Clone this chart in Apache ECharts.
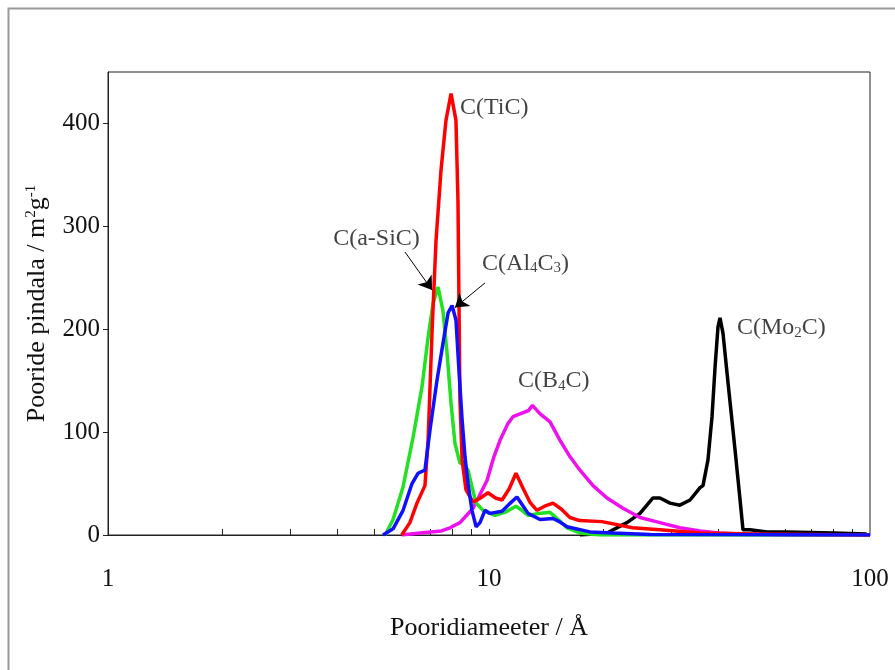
<!DOCTYPE html>
<html>
<head>
<meta charset="utf-8">
<script src="https://cdn.jsdelivr.net/npm/echarts@6/dist/echarts.min.js"></script>
<style>
  html, body { margin: 0; padding: 0; background: #fff; }
  #chart { width: 895px; height: 670px; }
</style>
</head>
<body>
<div id="chart"></div>
<script>
// pore diameter (Å) vs pore area (m2/g)
var tic = [[5.9,0],[6.2,12],[6.47,31],[6.79,48],[6.92,92],[7.09,199],[7.26,286],[7.48,354],[7.71,403],[7.95,429],
  [8.19,403],[8.29,325],[8.34,228],[8.39,131],[8.5,73],[8.7,44],[9.08,32],[9.5,36],[9.94,41],[10.4,36],[10.82,34],
  [11.3,45],[11.77,60],[12.3,45],[12.8,32],[13.36,24],[14.0,28],[14.72,31],[15.5,25],[16.3,17],[17.3,14],[19.8,13],
  [23.8,7],[28.1,5],[35.8,2],[50,1],[100,0]];
var sic = [[5.34,0],[5.6,15],[5.95,47],[6.32,95],[6.67,144],[6.92,192],[7.13,225],[7.35,241],[7.57,218],[7.76,177],
  [7.95,128],[8.14,89],[8.39,70],[8.6,68],[8.81,63],[9.02,47],[9.25,31],[9.64,24],[10.37,19],[11.0,22],[11.77,28],
  [12.2,24],[12.66,19],[13.5,21],[14.46,22],[15.2,15],[16.02,7],[17.33,2],[19.56,0],[100,0]];
var al4c3 = [[5.27,0],[5.6,6],[5.95,24],[6.28,50],[6.51,60],[6.79,63],[7.0,102],[7.3,150],[7.57,186],[7.81,216],
  [8.0,223],[8.19,209],[8.34,160],[8.5,112],[8.65,76],[8.81,50],[9.02,24],[9.25,8],[9.47,12],[9.76,24],[10.06,21],
  [10.82,23],[11.3,30],[11.84,37],[12.3,28],[12.66,21],[13.61,15],[14.72,16],[15.3,13],[16.02,8],[18.41,3],
  [21.16,2],[26.5,0.5],[100,0]];
var b4c = [[5.9,0],[6.59,2],[7.5,4],[7.9,7],[8.39,12],[9.08,26],[9.88,53],[10.3,76],[10.69,92],[11.2,108],[11.56,115],
  [12.3,119],[12.7,121],[13.0,126],[13.6,118],[14.46,110],[15.36,92],[16.32,76],[17.33,63],[18.75,48],[20.4,36],
  [22.47,26],[24.91,17],[28.1,12],[31.7,7],[35.8,4],[40,2],[45.6,1],[60,0],[100,0]];
var mo2c = [[17.33,0],[20.4,2],[23.02,12],[24.91,21],[26.94,36],[28.1,36],[29.87,31],[31.7,29],[33.71,34],[35.8,46],
  [36.45,48],[37.56,73],[38.49,115],[39.2,163],[39.9,202],[40.39,211],[41.13,196],[42.4,148],[44.23,83],[45.6,34],
  [46.42,5],[48.4,5],[53.67,3],[60.56,3],[80,2],[98,1]];

var yTicks = [0, 100, 200, 300, 400];
var xLabels = [1, 10, 100];
var xTicks = [2,3,4,5,6,7,8,9,10,20,30,40,50,60,70,80,90];

var labels = [
  {name: 'C(TiC)', value: [8.39, 415]},
  {name: 'C(a-SiC)', value: [3.9, 288]},
  {name: 'C(Al{sub|4}C{sub|3})', value: [9.59, 264]},
  {name: 'C(B{sub|4}C)', value: [11.91, 150]},
  {name: 'C(Mo{sub|2}C)', value: [44.77, 201]}
];
var arrows = [
  [[6.02, 275], [7.09, 238]],
  [[9.76, 245], [8.14, 221]]
];

var font = '"Liberation Serif", "Times New Roman", serif';
var ink = '#111';
var chart = echarts.init(document.getElementById('chart'));

function line(name, data, color) {
  return {
    name: name, type: 'line', data: data, showSymbol: false, symbol: 'none',
    lineStyle: {color: color, width: 3.5}, itemStyle: {color: color}, z: 3
  };
}

var option = {
  animation: false,
  backgroundColor: '#fff',
  graphic: [{
    type: 'rect', left: 6, top: 6, silent: true,
    shape: {width: 1000, height: 1000},
    style: {fill: 'none', stroke: '#9a9a9a', lineWidth: 2}
  }],
  grid: {left: 108, top: 72, right: 25, bottom: 135, show: true, borderColor: '#222', borderWidth: 1},
  xAxis: {
    type: 'log', logBase: 10, min: 1, max: 100,
    name: 'Pooridiameeter / Å', nameLocation: 'middle', nameGap: 80,
    nameTextStyle: {fontFamily: font, fontSize: 26, color: ink},
    axisLine: {lineStyle: {color: '#222', width: 1}},
    axisTick: {inside: true, length: 6, customValues: xTicks, lineStyle: {color: '#222'}},
    minorTick: {show: false},
    axisLabel: {customValues: xLabels, margin: 32, fontFamily: font, fontSize: 25, color: ink},
    splitLine: {show: false}
  },
  yAxis: {
    type: 'value', min: 0, max: 450, interval: 100,
    name: 'Pooride pindala / m{sup|2}g{sup|-1}', nameLocation: 'middle', nameGap: 58, nameRotate: 90,
    nameTextStyle: {
      fontFamily: font, fontSize: 26, color: ink,
      rich: {sup: {fontFamily: font, fontSize: 15, verticalAlign: 'top', color: ink}}
    },
    axisLine: {lineStyle: {color: '#222', width: 1}},
    axisTick: {inside: false, length: 5, customValues: yTicks, lineStyle: {color: '#222'}},
    axisLabel: {customValues: yTicks, margin: 8, fontFamily: font, fontSize: 25, color: ink},
    splitLine: {show: false}
  },
  series: [
    line('C(Mo2C)', mo2c, '#000000'),
    line('C(B4C)', b4c, '#ee11ee'),
    line('C(a-SiC)', sic, '#22e022'),
    line('C(TiC)', tic, '#ff0000'),
    line('C(Al4C3)', al4c3, '#1010ff'),
    {
      type: 'scatter', data: labels, symbolSize: 0, z: 5, silent: true,
      label: {
        show: true, position: 'right', distance: 0,
        formatter: function (p) { return p.name; },
        fontFamily: font, fontSize: 24, color: ink,
        rich: {sub: {fontFamily: font, fontSize: 15, color: ink, padding: [10, 0, 0, 0]}}
      },
      markLine: {
        silent: true, symbol: ['none', 'arrow'], symbolSize: 13,
        lineStyle: {color: '#000', width: 1, type: 'solid'},
        label: {show: false},
        data: arrows.map(function (a) { return [{coord: a[0]}, {coord: a[1]}]; })
      }
    }
  ]
};
chart.setOption(option);
</script>
</body>
</html>
